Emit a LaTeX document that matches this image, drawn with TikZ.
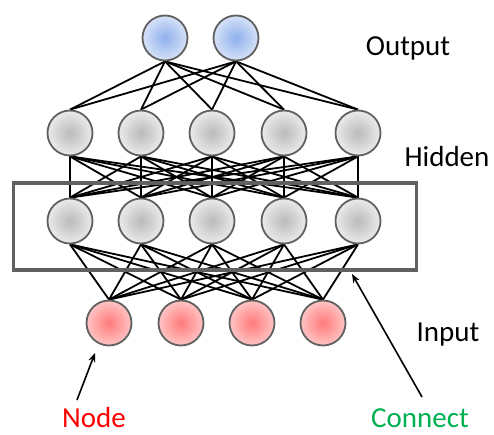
\documentclass[tikz,border=0pt]{standalone}
\usepackage{fontspec}
\setmainfont{Carlito}
\usetikzlibrary{backgrounds,arrows.meta}
\definecolor{ringgray}{HTML}{606060}
\definecolor{boxgray}{HTML}{606060}
\definecolor{cgreen}{HTML}{00B050}
\definecolor{bluein}{HTML}{8FB0EC}
\definecolor{blueout}{HTML}{D6E2F8}
\definecolor{redin}{HTML}{FF7A7A}
\definecolor{redout}{HTML}{FFC4C4}
\begin{document}
\begin{tikzpicture}[x=1pt,y=-1pt,
  neuron/.style={circle,minimum size=45pt,inner sep=0pt,draw=ringgray,line width=1.8pt,shading=radial},
  outn/.style={neuron,inner color=bluein,outer color=blueout},
  hidn/.style={neuron,inner color=black!27,outer color=black!8},
  inn/.style={neuron,inner color=redin,outer color=redout},
  edge/.style={black,line width=1.8pt},
  lbl/.style={font=\fontsize{29}{32}\selectfont,anchor=base,inner sep=0.5pt},
  pointer/.style={black,line width=1.6pt,-{Stealth[length=9pt,width=7pt]}}
]
\useasboundingbox (0,0) rectangle (494,435);
% nodes
\node[outn] (o1) at (165,38) {};
\node[outn] (o2) at (236,38) {};
\foreach \i/\x in {1/70,2/141,3/212,4/284,5/358} {
  \node[hidn] (a\i) at (\x,133) {};
  \node[hidn] (b\i) at (\x,221) {};
}
\foreach \i/\x in {1/109,2/181,3/252,4/323} {
  \node[inn] (n\i) at (\x,323) {};
}
% edges
\begin{scope}[on background layer]
\foreach \o in {1,2} \foreach \h in {1,...,5} \draw[edge] (o\o.south) -- (a\h.north);
\foreach \h in {1,...,5} \foreach \k in {1,...,5} \draw[edge] (a\h.south) -- (b\k.north);
\foreach \h in {1,...,5} \foreach \k in {1,...,4} \draw[edge] (b\h.south) -- (n\k.north);
\end{scope}
% box
\node[draw=boxgray,line width=3.5pt,minimum width=403pt,minimum height=87pt,inner sep=0pt] (box) at (215,226.5) {};
% labels
\node[lbl] (tout) at (408,56) {Output};
\node[lbl] (thid) at (447,167) {Hidden};
\node[lbl] (tin) at (448,341) {Input};
\node[lbl,text=red] (tnode) at (94,427) {Node};
\node[lbl,text=cgreen] (tcon) at (420,427) {Connect};
\coordinate (pn) at (77,400);
\coordinate (pnt) at (95,353);
\coordinate (pc) at (422,397);
\coordinate (pct) at (352,274);
\draw[pointer] (pn) -- (pnt);
\draw[pointer] (pc) -- (pct);
\end{tikzpicture}
\end{document}
